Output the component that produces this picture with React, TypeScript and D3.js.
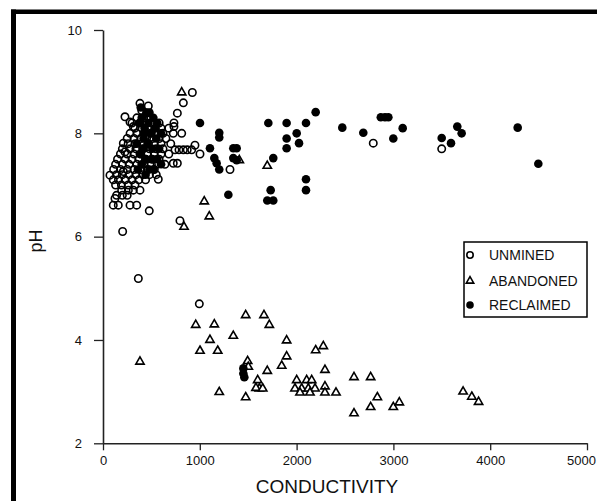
import { useEffect, useRef } from "react";
import * as d3 from "d3";

// [conductivity, pH]
const unmined: [number, number][] = [
  [203, 6.1], [365, 5.19], [478, 6.5], [795, 6.31], [995, 4.7], [923, 8.79], [830, 8.59],
  [1312, 7.3], [2792, 7.81], [3499, 7.7], [382, 8.58], [468, 8.53], [400, 8.44], [451, 8.39],
  [227, 8.32], [279, 8.22], [313, 8.13], [768, 8.39], [733, 8.2], [733, 8.13], [726, 8.0],
  [813, 8.0], [744, 7.68], [785, 7.68], [830, 7.68], [870, 7.68], [916, 7.68], [950, 7.77],
  [1002, 7.6], [210, 7.81], [227, 7.64], [106, 7.1], [72, 7.19], [210, 7.26], [726, 7.42],
  [768, 7.42], [571, 7.11], [106, 6.61], [158, 6.61], [124, 6.74], [279, 6.61], [348, 6.61],
  [193, 6.9], [262, 6.9], [313, 6.9], [382, 6.9],
  [350, 8.3], [420, 8.3], [480, 8.3],
  [300, 8.2], [380, 8.2], [440, 8.2], [520, 8.2], [580, 8.2],
  [330, 8.1], [400, 8.1], [460, 8.1], [540, 8.1], [600, 8.1], [680, 8.1],
  [280, 8.0], [350, 8.0], [420, 8.0], [490, 8.0], [560, 8.0], [620, 8.0],
  [250, 7.9], [320, 7.9], [390, 7.9], [450, 7.9], [510, 7.9], [580, 7.9], [650, 7.9],
  [260, 7.8], [330, 7.8], [400, 7.8], [470, 7.8], [530, 7.8], [600, 7.8], [700, 7.8],
  [200, 7.7], [280, 7.7], [340, 7.7], [410, 7.7], [480, 7.7], [550, 7.7], [620, 7.7],
  [180, 7.6], [250, 7.6], [320, 7.6], [390, 7.6], [460, 7.6], [530, 7.6], [600, 7.6], [680, 7.6],
  [150, 7.5], [230, 7.5], [300, 7.5], [370, 7.5], [440, 7.5], [510, 7.5], [580, 7.5],
  [130, 7.4], [200, 7.4], [270, 7.4], [350, 7.4], [420, 7.4], [500, 7.4], [560, 7.4], [640, 7.4],
  [110, 7.3], [180, 7.3], [250, 7.3], [320, 7.3], [390, 7.3], [460, 7.3], [530, 7.3],
  [140, 7.2], [200, 7.2], [270, 7.2], [340, 7.2], [410, 7.2], [480, 7.2], [550, 7.2],
  [160, 7.1], [230, 7.1], [300, 7.1], [370, 7.1], [440, 7.1],
  [130, 7.0], [190, 7.0], [260, 7.0], [330, 7.0],
  [140, 6.8], [200, 6.8], [250, 6.8],
];

const abandoned: [number, number][] = [
  [813, 8.79], [837, 6.19], [1098, 6.39], [1046, 6.68], [1408, 7.48], [1697, 7.37],
  [382, 3.58], [958, 4.29], [1150, 4.3], [1474, 4.48], [1663, 4.48], [1718, 4.29],
  [1105, 4.0], [1346, 4.08], [1002, 3.79], [1185, 3.79], [1897, 3.99], [1897, 3.68],
  [1846, 3.5], [1697, 3.4], [1494, 3.59], [1501, 3.48], [2197, 3.8], [2276, 3.88],
  [2293, 3.42], [1598, 3.22], [1615, 3.06], [1580, 3.07], [1650, 3.06], [1201, 2.99],
  [1474, 2.89], [2001, 3.22], [2104, 3.22], [2156, 3.22], [1983, 3.06], [2052, 3.06],
  [2121, 3.06], [2190, 3.06], [2035, 2.98], [2138, 2.98], [2293, 3.1], [2293, 2.98],
  [2407, 2.98], [2593, 3.28], [2765, 3.28], [2834, 2.89], [2765, 2.7], [2593, 2.58],
  [2999, 2.7], [3061, 2.79], [3720, 3.0], [3810, 2.9], [3880, 2.8],
];

const reclaimed: [number, number][] = [
  [380, 8.2], [430, 8.1], [470, 8.2], [500, 8.0], [420, 7.9], [460, 7.8], [510, 7.7],
  [380, 7.6], [440, 7.5], [400, 7.4], [480, 7.3], [350, 7.8], [540, 8.1], [450, 8.4], [390, 8.5],
  [400, 8.3], [520, 8.3], [560, 8.2], [600, 8.0], [550, 7.9], [580, 7.7], [420, 7.7],
  [500, 7.5], [560, 7.5], [360, 7.3], [440, 7.2], [520, 7.3], [600, 7.4], [480, 8.4], [430, 8.0],
  [1002, 8.2], [1201, 8.01], [1201, 7.92], [1105, 7.71], [1150, 7.52], [1174, 7.42], [1201, 7.3],
  [1346, 7.71], [1381, 7.71], [1346, 7.52], [1381, 7.48], [1295, 6.81], [1708, 8.2], [1897, 8.2],
  [2097, 8.2], [2197, 8.41], [2472, 8.11], [2689, 8.01], [2001, 8.0], [1897, 7.9], [2025, 7.81],
  [1897, 7.71], [1759, 7.52], [2097, 7.11], [2097, 6.9], [1732, 6.9], [1697, 6.7], [1759, 6.7],
  [2870, 8.31], [2913, 8.31], [2948, 8.31], [3096, 8.1], [2999, 7.9], [3499, 7.91], [3595, 7.81],
  [3660, 8.13], [3705, 8.0], [4284, 8.11], [4497, 7.41], [1450, 3.45], [1450, 3.35], [1460, 3.28],
];

const xTicks = [0, 1000, 2000, 3000, 4000, 5000];
const yTicks = [2, 4, 6, 8, 10];
const legendLabels = ["UNMINED", "ABANDONED", "RECLAIMED"];

const App = () => {
  const ref = useRef<SVGSVGElement>(null);

  useEffect(() => {
    const width = 597;
    const height = 501;
    const svg = d3.select(ref.current).attr("width", width).attr("height", height);
    svg.selectAll("*").remove();

    const font = "'Liberation Sans', Arial, sans-serif";

    const xScale = d3.scaleLinear().domain([0, 5000]).range([103, 587]);
    const yScale = d3.scaleLinear().domain([2, 10]).range([443.3, 30]);

    // thick frame on top and left
    svg.append("rect").attr("x", 11).attr("y", 9.5).attr("width", width - 11).attr("height", 4.5).attr("fill", "#000");
    svg.append("rect").attr("x", 11).attr("y", 9.5).attr("width", 5).attr("height", height).attr("fill", "#000");

    // x axis
    const xAxis = svg
      .append("g")
      .attr("transform", `translate(0,${yScale(2)})`)
      .call(
        d3.axisBottom(xScale).tickValues(xTicks).tickFormat(d3.format("d")).tickSize(7).tickSizeOuter(0).tickPadding(5)
      );
    xAxis.select(".domain").attr("stroke", "#222").attr("stroke-width", 1.6);
    xAxis.selectAll(".tick line").attr("stroke", "#222").attr("stroke-width", 1.3);
    xAxis.selectAll("text").attr("font-family", font).attr("font-size", 13).attr("fill", "#111");
    // last label sits against the right edge of the picture
    xAxis.selectAll<SVGTextElement, number>("text").filter((d) => d === 5000).attr("dx", -6);

    // y axis
    const yAxis = svg
      .append("g")
      .attr("transform", `translate(${xScale(0)},0)`)
      .call(d3.axisLeft(yScale).tickValues(yTicks).tickSize(9).tickSizeOuter(0).tickPadding(12));
    yAxis.select(".domain").attr("stroke", "#222").attr("stroke-width", 1.6);
    yAxis.selectAll(".tick line").attr("stroke", "#222").attr("stroke-width", 1.3);
    yAxis.selectAll("text").attr("font-family", font).attr("font-size", 13).attr("fill", "#111");

    svg
      .append("text")
      .attr("x", 327)
      .attr("y", 493)
      .attr("text-anchor", "middle")
      .attr("font-family", font)
      .attr("font-size", 19)
      .attr("fill", "#111")
      .text("CONDUCTIVITY");

    svg
      .append("text")
      .attr("transform", "translate(42,241) rotate(-90)")
      .attr("text-anchor", "middle")
      .attr("font-family", font)
      .attr("font-size", 18)
      .attr("fill", "#111")
      .text("pH");

    const tri = d3.symbol().type(d3.symbolTriangle).size(30);

    // points
    svg
      .append("g")
      .selectAll("circle")
      .data(unmined)
      .join("circle")
      .attr("cx", (d) => xScale(d[0]))
      .attr("cy", (d) => yScale(d[1]))
      .attr("r", 3.7)
      .attr("fill", "none")
      .attr("stroke", "#000")
      .attr("stroke-width", 1.6);

    svg
      .append("g")
      .selectAll("path")
      .data(abandoned)
      .join("path")
      .attr("d", tri)
      .attr("transform", (d) => `translate(${xScale(d[0])},${yScale(d[1])})`)
      .attr("fill", "#fff")
      .attr("stroke", "#000")
      .attr("stroke-width", 1.6);

    svg
      .append("g")
      .selectAll("circle")
      .data(reclaimed)
      .join("circle")
      .attr("cx", (d) => xScale(d[0]))
      .attr("cy", (d) => yScale(d[1]))
      .attr("r", 4.3)
      .attr("fill", "#000");

    // legend
    const legend = svg.append("g");
    legend
      .append("rect")
      .attr("x", 464)
      .attr("y", 242)
      .attr("width", 123)
      .attr("height", 75)
      .attr("fill", "#fff")
      .attr("stroke", "#000")
      .attr("stroke-width", 1.5);
    const rows = [255, 281, 305];
    legendLabels.forEach((label, i) => {
      if (i === 0) {
        legend.append("circle").attr("cx", 470).attr("cy", rows[i]).attr("r", 3.2)
          .attr("fill", "#fff").attr("stroke", "#000").attr("stroke-width", 1.6);
      } else if (i === 1) {
        legend.append("path").attr("d", d3.symbol().type(d3.symbolTriangle).size(24)())
          .attr("transform", `translate(470,${rows[i]})`)
          .attr("fill", "#fff").attr("stroke", "#000").attr("stroke-width", 1.6);
      } else {
        legend.append("circle").attr("cx", 470).attr("cy", rows[i]).attr("r", 3.8).attr("fill", "#000");
      }
      legend
        .append("text")
        .attr("x", 489)
        .attr("y", rows[i] + 5)
        .attr("font-family", font)
        .attr("font-size", 14)
        .attr("fill", "#111")
        .text(label);
    });
  }, []);

  return (
    <div>
      <svg ref={ref} style={{ position: "absolute", left: 0, top: 0, background: "#fff" }}></svg>
    </div>
  );
};

export default App;
